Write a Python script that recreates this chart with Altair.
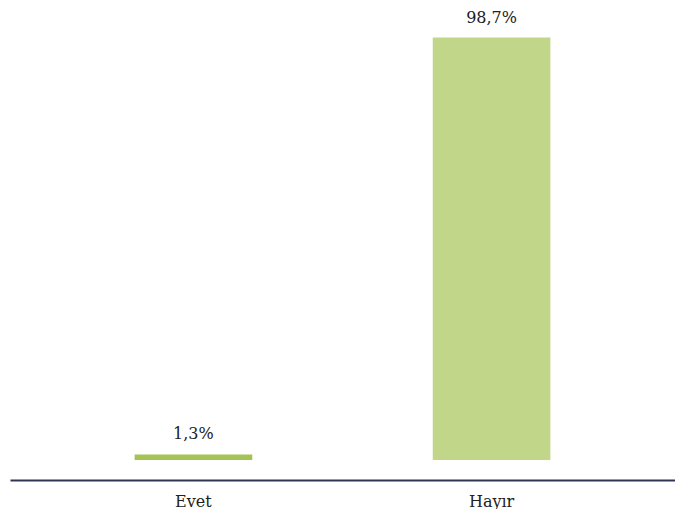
import altair as alt
import pandas as pd

categories = ["Evet", "Hayır"]
values = [1.3, 98.7]
labels = ["1,3%", "98,7%"]
colors = ["#A5C254", "#C2D68A"]

df = pd.DataFrame({"cat": categories, "val": values, "lab": labels, "col": colors})

FONT = "DejaVu Serif"

base = alt.Chart(df).encode(
    x=alt.X("cat:N", sort=categories, title=None,
            scale=alt.Scale(paddingInner=0.6054, paddingOuter=0.418),
            axis=alt.Axis(labelAngle=0, ticks=False, domainColor="#2F3550", domainWidth=2,
                          offset=20, labelPadding=13, labelFont=FONT, labelFontSize=16,
                          labelColor="#222222", grid=False)),
    y=alt.Y("val:Q", scale=alt.Scale(domain=[0, 100]), axis=None),
)

bars = base.mark_bar().encode(color=alt.Color("col:N", scale=None))
text = base.mark_text(dy=-20, font=FONT, fontSize=16, color="#222222").encode(text="lab:N")

chart = (bars + text).properties(
    width=665, height=428,
    padding={"left": 2, "right": 0, "top": 1, "bottom": 0},
).configure_view(stroke=None)

chart.save("out.html", embed_options={"renderer": "svg", "actions": False})
